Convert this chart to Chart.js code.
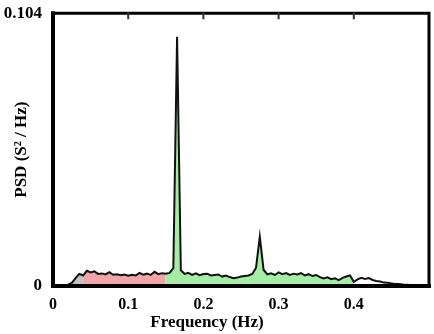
<!DOCTYPE html>
<html lang="en">
<head>
  <meta charset="UTF-8" />
  <title>PSD</title>
  <script src="https://cdn.jsdelivr.net/npm/chart.js"></script>
  <style>
    html, body { margin: 0; padding: 0; background: #fff; }
    .chart-container { width: 434px; height: 334px; }
  </style>
</head>
<body>
  <div class="chart-container">
    <canvas id="psdChart" width="434" height="334"></canvas>
  </div>

  <script>
    // frequency grid (Hz) and PSD values
    const freq = [
      0, 0.005, 0.01, 0.015, 0.02, 0.025, 0.03, 0.035, 0.04, 0.045,
      0.05, 0.055, 0.06, 0.065, 0.07, 0.075, 0.08, 0.085, 0.09, 0.095,
      0.1, 0.105, 0.11, 0.115, 0.12, 0.125, 0.13, 0.135, 0.14, 0.145,
      0.15, 0.155, 0.16, 0.165, 0.17, 0.175, 0.18, 0.185, 0.19, 0.195,
      0.2, 0.205, 0.21, 0.215, 0.22, 0.225, 0.23, 0.235, 0.24, 0.245,
      0.25, 0.255, 0.26, 0.265, 0.27, 0.275, 0.28, 0.285, 0.29, 0.295,
      0.3, 0.305, 0.31, 0.315, 0.32, 0.325, 0.33, 0.335, 0.34, 0.345,
      0.35, 0.355, 0.36, 0.365, 0.37, 0.375, 0.38, 0.385, 0.39, 0.395,
      0.4, 0.405, 0.41, 0.415, 0.42, 0.425, 0.43, 0.435, 0.44, 0.445,
      0.45, 0.455, 0.46, 0.465, 0.47, 0.475, 0.48, 0.485, 0.49, 0.495,
      0.5
    ];
    const psd = [
      0.0003, 0.0003, 0.0003, 0.0003, 0.0005, 0.0012, 0.0030, 0.0046, 0.0040, 0.0058,
      0.0052, 0.0056, 0.0046, 0.0048, 0.0044, 0.0053, 0.0043, 0.0045, 0.0041, 0.0044,
      0.0039, 0.0043, 0.0040, 0.0050, 0.0043, 0.0047, 0.0042, 0.0054, 0.0045, 0.0049,
      0.0047, 0.0050, 0.0068, 0.0950, 0.0060, 0.0046, 0.0050, 0.0042, 0.0048, 0.0041,
      0.0046, 0.0047, 0.0040, 0.0042, 0.0044, 0.0036, 0.0040, 0.0034, 0.0030, 0.0032,
      0.0036, 0.0038, 0.0040, 0.0046, 0.0070, 0.0188, 0.0062, 0.0044, 0.0048, 0.0042,
      0.0052, 0.0045, 0.0049, 0.0042, 0.0047, 0.0044, 0.0049, 0.0040, 0.0045, 0.0038,
      0.0042, 0.0034, 0.0029, 0.0033, 0.0026, 0.0029, 0.0022, 0.0031, 0.0036, 0.0040,
      0.0016, 0.0025, 0.0031, 0.0027, 0.0030, 0.0023, 0.0019, 0.0017, 0.0013, 0.0012,
      0.0010, 0.0008, 0.0008, 0.0006, 0.0005, 0.0004, 0.0004, 0.0003, 0.0003, 0.0002,
      0.0002
    ];

    // shaded frequency bands [from, to]
    const bandNames = ["gray", "LF", "HF"];
    const bandFrom = [0.02, 0.04, 0.15];
    const bandTo = [0.04, 0.15, 0.40];

    const xTickValues = [0, 0.1, 0.2, 0.3, 0.4];
    const xTickLabels = ["0", "0.1", "0.2", "0.3", "0.4"];
    const yTickValues = [0, 0.104];
    const yTickLabels = ["0", "0.104"];

    const bandFill = ["rgb(194,194,194)", "rgb(242,165,168)", "rgb(165,236,165)"];

    const points = freq.map((f, i) => ({ x: f, y: psd[i] }));

    const bandSets = bandNames.map((name, b) => ({
      label: name,
      data: points.filter(p => p.x >= bandFrom[b] - 1e-9 && p.x <= bandTo[b] + 1e-9),
      borderWidth: 0,
      backgroundColor: bandFill[b],
      fill: "origin",
      pointRadius: 0,
      tension: 0
    }));

    // box round the plot, with small inward ticks on the top edge
    const frame = {
      id: "frame",
      afterDraw(chart) {
        const { ctx, chartArea: { left, top, right, bottom }, scales: { x } } = chart;
        ctx.save();
        ctx.strokeStyle = "#000";
        ctx.lineCap = "square";
        ctx.lineWidth = 3;
        ctx.beginPath();
        ctx.moveTo(left, top); ctx.lineTo(right, top);
        ctx.moveTo(right, top); ctx.lineTo(right, bottom);
        ctx.stroke();
        ctx.lineWidth = 4;
        ctx.beginPath();
        ctx.moveTo(left, top); ctx.lineTo(left, bottom);
        ctx.moveTo(left, bottom); ctx.lineTo(right, bottom);
        ctx.stroke();
        ctx.lineWidth = 2;
        ctx.strokeStyle = "#333";
        ctx.beginPath();
        xTickValues.slice(1).forEach(v => {
          const px = x.getPixelForValue(v);
          ctx.moveTo(px, top);
          ctx.lineTo(px, top + 5);
        });
        ctx.stroke();
        ctx.restore();
      }
    };

    const serif = "'Liberation Serif', 'Times New Roman', serif";

    new Chart(document.getElementById("psdChart"), {
      type: "line",
      data: {
        datasets: [
          {
            label: "PSD",
            data: points,
            borderColor: "#111",
            borderWidth: 2,
            fill: false,
            pointRadius: 0,
            tension: 0
          },
          ...bandSets
        ]
      },
      options: {
        responsive: false,
        animation: false,
        layout: { autoPadding: false, padding: { top: 5, right: 5, left: 0, bottom: 0 } },
        plugins: { legend: { display: false }, tooltip: { enabled: false } },
        scales: {
          x: {
            type: "linear",
            min: 0,
            max: 0.5,
            grid: { display: false },
            border: { display: false },
            afterBuildTicks: s => { s.ticks = xTickValues.map(v => ({ value: v })); },
            afterFit: s => { s.height = 48; },
            ticks: {
              padding: 1,
              color: "#000",
              font: { family: serif, size: 16, weight: "bold" },
              callback: (v) => xTickLabels[xTickValues.indexOf(v)] ?? ""
            },
            title: {
              display: true,
              // trailing spaces pull the centred title left, as in the original
              text: "Frequency (Hz)\u2003\u2003\u2003\u2003",
              color: "#000",
              font: { family: serif, size: 17, weight: "bold" },
              padding: { top: 0, bottom: 1 }
            }
          },
          y: {
            min: 0,
            max: 0.104,
            grid: { display: false },
            border: { display: false },
            afterBuildTicks: s => { s.ticks = yTickValues.map(v => ({ value: v })); },
            afterFit: s => { s.width = 53; },
            ticks: {
              padding: 3,
              color: "#000",
              font: { family: serif, size: 17, weight: "bold" },
              callback: (v) => yTickLabels[yTickValues.indexOf(v)] ?? ""
            },
            title: {
              display: true,
              text: "PSD (S² / Hz)",
              color: "#000",
              font: { family: serif, size: 17, weight: "bold" },
              padding: { top: 11, bottom: 0 }
            }
          }
        }
      },
      plugins: [frame]
    });
  </script>
</body>
</html>
